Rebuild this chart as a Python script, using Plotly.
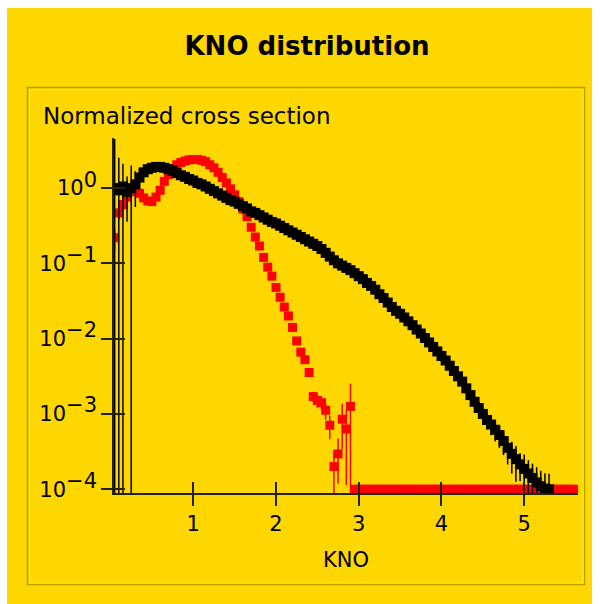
import plotly.graph_objects as go

# ---- data: KNO bins and normalized cross sections ----
black_kno = [round(0.05 * i, 2) for i in range(1, 107)]          # 0.05 ... 5.30
black_val = [
    1.00, 0.933, 1.05, 0.891, 1.00, 1.12,
    1.38, 1.62, 1.78, 1.86, 1.91, 1.91, 1.86, 1.78, 1.70, 1.58, 1.48, 1.41, 1.32, 1.26,
    1.17, 1.12, 1.05, 0.977, 0.912, 0.851, 0.794, 0.741, 0.692, 0.661,
    0.617, 0.575, 0.537, 0.490, 0.468, 0.437, 0.407, 0.380, 0.355, 0.339,
    0.316, 0.295, 0.275, 0.257, 0.240, 0.224, 0.209, 0.195, 0.182, 0.170,
    0.155, 0.138, 0.123, 0.110, 0.100, 0.0933, 0.0871, 0.0813, 0.0741, 0.0676,
    0.0617, 0.0550, 0.0501, 0.0447, 0.0389, 0.0347, 0.0302, 0.0263, 0.0234, 0.0214,
    0.0191, 0.0170, 0.0151, 0.0132, 0.0117, 0.0102, 0.00891, 0.00776, 0.00676, 0.00589,
    0.00513, 0.00437, 0.00372, 0.00316, 0.00269, 0.00219, 0.00178, 0.00145, 0.00120, 0.00100,
    0.000832, 0.000724, 0.000617, 0.000525, 0.000437, 0.000355, 0.000295, 0.000251, 0.000214, 0.000186,
    0.000162, 0.000141, 0.000123, 0.000110, 0.000102, 0.000100,
]
# relative statistical errors of the black series
black_rel_err = [
    3.5, 1.7, 1.0, 0.6, 1.0, 0.5,
    0.3, 0.15, 0.08, 0.05, 0.05, 0.05, 0.05, 0.05, 0.05, 0.05, 0.05, 0.05, 0.05, 0.05,
    0.05, 0.05, 0.05, 0.05, 0.05, 0.05, 0.05, 0.05, 0.05, 0.05,
    0.05, 0.05, 0.05, 0.05, 0.05, 0.05, 0.05, 0.05, 0.05, 0.05,
    0.05, 0.05, 0.05, 0.05, 0.05, 0.05, 0.05, 0.05, 0.05, 0.05,
    0.05, 0.05, 0.05, 0.05, 0.05, 0.05, 0.05, 0.05, 0.05, 0.05,
    0.05, 0.05, 0.05, 0.05, 0.05, 0.05, 0.05, 0.05, 0.05, 0.05,
    0.05, 0.05, 0.05, 0.05, 0.06, 0.06, 0.07, 0.07, 0.08, 0.08,
    0.09, 0.10, 0.11, 0.12, 0.13, 0.15, 0.16, 0.18, 0.20, 0.22,
    0.25, 0.28, 0.30, 0.33, 0.35, 0.40, 0.45, 0.50, 0.40, 0.55,
    0.50, 0.55, 0.60, 0.60, 0.60, 0.60,
]

red_kno = [round(0.05 * i, 2) for i in range(1, 113)]            # 0.05 ... 5.60
red_val = [
    0.219, 0.468, 0.603, 0.759, 0.891, 0.933, 0.851, 0.741, 0.676, 0.661,
    0.759, 0.933, 1.23, 1.51, 1.82, 2.04, 2.19, 2.29, 2.37, 2.40,
    2.40, 2.34, 2.24, 2.04, 1.86, 1.62, 1.38, 1.17, 0.977, 0.813,
    0.661, 0.525, 0.417, 0.302, 0.224, 0.170, 0.120, 0.0891, 0.0676, 0.0479,
    0.0355, 0.0263, 0.0200, 0.0141, 0.00933, 0.00661, 0.00525, 0.00355, 0.00170, 0.00151,
    0.00141, 0.00112, 0.000708, 0.000200, 0.000295, 0.000851, 0.000631, 0.00126,
] + [1e-4] * 54                                                   # empty bins sit on the floor
red_rel_err = [
    0.30, 0.20, 0.15, 0.10, 0.03, 0.03, 0.03, 0.03, 0.03, 0.03,
    0.03, 0.03, 0.03, 0.03, 0.03, 0.03, 0.03, 0.03, 0.03, 0.03,
    0.03, 0.03, 0.03, 0.03, 0.03, 0.03, 0.03, 0.03, 0.03, 0.03,
    0.03, 0.03, 0.03, 0.03, 0.03, 0.03, 0.03, 0.03, 0.03, 0.03,
    0.04, 0.05, 0.05, 0.06, 0.07, 0.08, 0.10, 0.12, 0.15, 0.20,
    0.20, 0.25, 0.35, 0.60, 0.60, 0.60, 0.82, 1.00,
] + [0.0] * 54

y_tick_vals = [1e-4, 1e-3, 1e-2, 1e-1, 1]
y_tick_text = ["10<sup><span style='font-size:21px'>" + e + "</span></sup>"
               for e in ["\u22124", "\u22123", "\u22122", "\u22121", "0"]]
x_tick_vals = [1, 2, 3, 4, 5]

YELLOW = "#FFD700"
AXIS = "#222200"
FONT = "DejaVu Sans"

W, H = 600, 604
L, R, T, B = 114, 22, 138, 111
PW, PH = W - L - R, H - T - B


def px(x):
    return (x - L) / PW


def py(y):
    return (H - B - y) / PH


fig = go.Figure()

fig.add_trace(go.Scatter(
    x=red_kno, y=red_val, mode="markers",
    marker=dict(symbol="square", size=9, color="#FF0000", line=dict(width=0)),
    error_y=dict(type="data", array=[v * e for v, e in zip(red_val, red_rel_err)],
                 color="#FF0000", thickness=1.5, width=0),
))
fig.add_trace(go.Scatter(
    x=black_kno, y=black_val, mode="markers",
    marker=dict(symbol="square", size=10, color="#000000", line=dict(width=0)),
    error_y=dict(type="data", array=[v * e for v, e in zip(black_val, black_rel_err)],
                 color="#000000", thickness=1.5, width=0),
))
# companion axes carrying the inward half of the tick marks
fig.add_trace(go.Scatter(x=[], y=[], xaxis="x2", yaxis="y2", showlegend=False))

x_range = [0.042, 5.65]
y_range = [-4.05, 0.665]

fig.update_layout(
    width=W, height=H,
    margin=dict(l=L, r=R, t=T, b=B, pad=0),
    paper_bgcolor=YELLOW, plot_bgcolor="rgba(0,0,0,0)",
    showlegend=False,
    font=dict(family=FONT, size=21, color="#000000"),
    title=dict(text="<b>KNO distribution</b>", x=307 / W, xanchor="center",
               y=1 - 46 / H, yanchor="middle", yref="container",
               font=dict(family=FONT, size=26, color="#000000")),
    xaxis=dict(range=x_range, tickvals=x_tick_vals, ticks="outside", ticklen=11,
               tickwidth=1.5, tickcolor=AXIS, showline=True, linecolor=AXIS,
               linewidth=1.5, showgrid=False, zeroline=False, layer="above traces",
               title=dict(text="KNO", standoff=17, font=dict(size=21))),
    xaxis2=dict(range=x_range, overlaying="x", anchor="y", side="bottom",
                tickvals=x_tick_vals, ticks="inside", ticklen=11, tickwidth=1.5,
                tickcolor=AXIS, showticklabels=False, showline=False,
                showgrid=False, zeroline=False, layer="above traces"),
    yaxis=dict(type="log", range=y_range, tickvals=y_tick_vals, ticktext=y_tick_text,
               ticks="outside", ticklen=11, tickwidth=1.5, tickcolor=AXIS,
               showline=True, linecolor=AXIS, linewidth=1.5, showgrid=False,
               zeroline=False, layer="above traces"),
    yaxis2=dict(type="log", range=y_range, overlaying="y", anchor="x", side="left",
                tickvals=y_tick_vals, ticks="inside", ticklen=11, tickwidth=1.5,
                tickcolor=AXIS, showticklabels=False, showline=False,
                showgrid=False, zeroline=False, layer="above traces"),
)

shapes = [
    # white page margin around the yellow card
    dict(type="rect", xref="paper", yref="paper", x0=px(0), x1=px(7), y0=py(H), y1=py(0),
         fillcolor="white", line=dict(width=0), layer="above"),
    dict(type="rect", xref="paper", yref="paper", x0=px(0), x1=px(W), y0=py(8), y1=py(0),
         fillcolor="white", line=dict(width=0), layer="above"),
    dict(type="rect", xref="paper", yref="paper", x0=px(592), x1=px(W), y0=py(H), y1=py(0),
         fillcolor="white", line=dict(width=0), layer="above"),
    # etched frame of the inner panel
    dict(type="rect", xref="paper", yref="paper", x0=px(27.5), x1=px(584.5),
         y0=py(584.5), y1=py(87.5), line=dict(color="#B89C00", width=1.5), layer="below"),
    dict(type="rect", xref="paper", yref="paper", x0=px(29.5), x1=px(583),
         y0=py(583), y1=py(89.5), line=dict(color="#FFF200", width=1.2), layer="below"),
]
fig.update_layout(shapes=shapes)

fig.add_annotation(text="Normalized cross section", xref="paper", yref="paper",
                   x=px(41), y=py(116), xanchor="left", yanchor="middle",
                   showarrow=False, font=dict(family=FONT, size=23, color="#000000"))

fig.write_html("out.html")
